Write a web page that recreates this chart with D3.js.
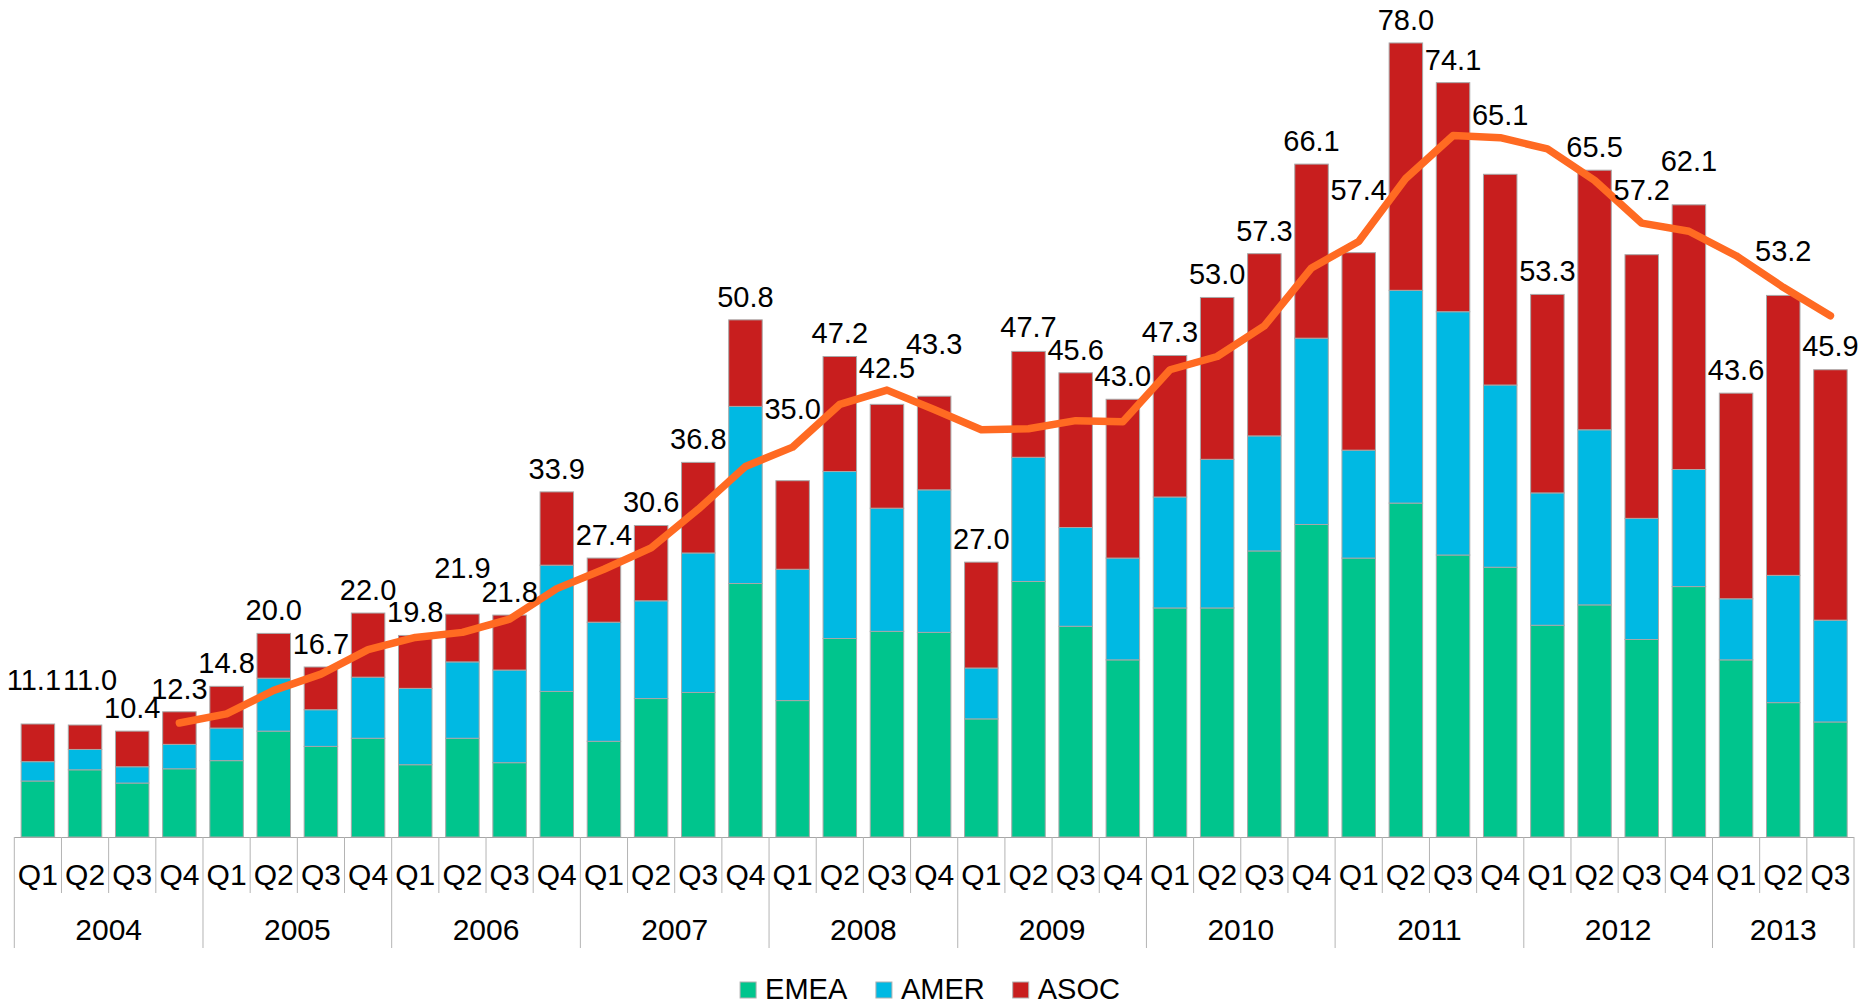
<!DOCTYPE html>
<html>
<head>
<meta charset="utf-8">
<script src="https://cdn.jsdelivr.net/npm/d3@7"></script>
<style>
  html, body { margin: 0; padding: 0; background: #ffffff; }
  svg { display: block; font-family: "Liberation Sans", Arial, sans-serif; }
</style>
</head>
<body>
<svg id="chart" width="1860" height="1005"></svg>
<script>
// ---------- data ----------
const years = ["2004","2005","2006","2007","2008","2009","2010","2011","2012","2013"];
const quarters = ["Q1","Q2","Q3","Q4","Q1","Q2","Q3","Q4","Q1","Q2","Q3","Q4","Q1","Q2","Q3","Q4",
  "Q1","Q2","Q3","Q4","Q1","Q2","Q3","Q4","Q1","Q2","Q3","Q4","Q1","Q2","Q3","Q4",
  "Q1","Q2","Q3","Q4","Q1","Q2","Q3"];
const seriesNames = ["EMEA","AMER","ASOC"];
const emea = [5.5,6.6,5.3,6.7, 7.5,10.4,8.9,9.7, 7.1,9.7,7.3,14.3, 9.4,13.6,14.2,24.9,
  13.4,19.5,20.2,20.1, 11.6,25.1,20.7,17.4, 22.5,22.5,28.1,30.7, 27.4,32.8,27.7,26.5,
  20.8,22.8,19.4,24.6, 17.4,13.2,11.3];
const amer = [1.9,2.0,1.6,2.4, 3.2,5.2,3.6,6.0, 7.5,7.5,9.1,12.4, 11.7,9.6,13.7,17.4,
  12.9,16.4,12.1,14.0, 5.0,12.2,9.7,10.0, 10.9,14.6,11.3,18.3, 10.6,20.9,23.9,17.9,
  13.0,17.2,11.9,11.5, 6.0,12.5,10.0];
const asoc = [3.7,2.4,3.5,3.2, 4.1,4.4,4.2,6.3, 5.2,4.7,5.4,7.2, 6.3,7.4,8.9,8.5,
  8.7,11.3,10.2,9.2, 10.4,10.4,15.2,15.6, 13.9,15.9,17.9,17.1, 19.4,24.3,22.5,20.7,
  19.5,25.5,25.9,26.0, 20.2,27.5,24.6];
const totals = [11.1,11.0,10.4,12.3, 14.8,20.0,16.7,22.0, 19.8,21.9,21.8,33.9, 27.4,30.6,36.8,50.8,
  35.0,47.2,42.5,43.3, 27.0,47.7,45.6,43.0, 47.3,53.0,57.3,66.1, 57.4,78.0,74.1,65.1,
  53.3,65.5,57.2,62.1, 43.6,53.2,45.9];
// 4-quarter trend line
const trend = [null,null,null,11.2, 12.1,14.4,16.0,18.4, 19.6,20.1,21.4,24.4, 26.3,28.4,32.2,36.4,
  38.3,42.5,43.9,42.0, 40.0,40.1,40.9,40.8, 45.9,47.2,50.2,55.9, 58.5,64.7,68.9,68.7,
  67.6,64.5,60.3,59.5, 57.1,54.0,51.2];

// ---------- layout / style ----------
const colors = ["#00C58D", "#00B9E3", "#C81E1E"];
const lineColor = "#FF6A22";
const labelLift = [34,35,13,13, 13,13,13,13, 13,36,13,13, 13,13,13,13,
  62,14,26,42, 13,14,13,13, 13,13,13,13, 53,13,13,49, 13,13,55,34, 13,34,14];
const labelNudgeX = { 0: -4, 1: 5 };

const svg = d3.select("#chart");
const left = 14.3, right = 1854, base = 837, pxPerUnit = 10.18;
const idx = d3.range(totals.length);

const x = d3.scaleBand().domain(idx).range([left, right]).paddingInner(0.29).paddingOuter(0.145);
const y = d3.scaleLinear().domain([0, 80]).range([base, base - 80 * pxPerUnit]);

// stacked bars
const rows = idx.map(i => ({ i, EMEA: emea[i], AMER: amer[i], ASOC: asoc[i] }));
const stacked = d3.stack().keys(seriesNames)(rows);

svg.append("g").selectAll("g").data(stacked).join("g")
  .attr("fill", (d, k) => colors[k])
  .selectAll("rect").data(d => d).join("rect")
  .attr("x", d => x(d.data.i))
  .attr("width", x.bandwidth())
  .attr("y", d => y(d[1]))
  .attr("height", d => y(d[0]) - y(d[1]))
  .attr("stroke", "#A8A8A8")
  .attr("stroke-width", 1);

// axis baseline and separators
const step = x.step();
const axisG = svg.append("g");
axisG.append("line")
  .attr("x1", left).attr("x2", right).attr("y1", base + 0.5).attr("y2", base + 0.5)
  .attr("stroke", "#A6A6A6").attr("stroke-width", 1.2);
d3.range(totals.length + 1).forEach(b => {
  const xx = left + b * step;
  const isYear = (b % 4 === 0) || b === totals.length;
  axisG.append("line")
    .attr("x1", xx).attr("x2", xx).attr("y1", base).attr("y2", isYear ? 948 : 893)
    .attr("stroke", "#B4B4B4").attr("stroke-width", 1);
});

// quarter labels through d3 axis
const qAxis = d3.axisBottom(x).tickSize(0).tickFormat(i => quarters[i]);
const qG = svg.append("g").attr("transform", `translate(0,${base})`).call(qAxis);
qG.select(".domain").remove();
qG.selectAll("text")
  .attr("y", 48).attr("dy", 0)
  .attr("fill", "#000").style("font-size", "30px")
  .style("font-family", "'Liberation Sans', Arial, sans-serif");

// year labels
svg.append("g").selectAll("text").data(years).join("text")
  .attr("x", (d, k) => {
    const first = k * 4, last = Math.min(k * 4 + 3, totals.length - 1);
    return (left + first * step + left + (last + 1) * step) / 2;
  })
  .attr("y", 940)
  .attr("text-anchor", "middle")
  .style("font-size", "30px")
  .text(d => d);

// trend line
const line = d3.line()
  .defined(d => d != null)
  .x((d, i) => x(i) + x.bandwidth() / 2)
  .y(d => y(d));
svg.append("path")
  .datum(trend)
  .attr("d", line)
  .attr("fill", "none")
  .attr("stroke", lineColor)
  .attr("stroke-width", 7.5)
  .attr("stroke-linejoin", "round")
  .attr("stroke-linecap", "round");

// total labels
svg.append("g").selectAll("text").data(totals).join("text")
  .attr("x", (d, i) => x(i) + x.bandwidth() / 2 + (labelNudgeX[i] || 0))
  .attr("y", (d, i) => y(d) - labelLift[i])
  .attr("text-anchor", "middle")
  .style("font-size", "29px")
  .attr("fill", "#000")
  .text(d => d.toFixed(1));

// legend
const legendItems = seriesNames.map((n, k) => ({ n, c: colors[k] }));
const lg = svg.append("g");
let cursor = 0;
const items = lg.selectAll("g").data(legendItems).join("g");
items.append("rect").attr("width", 16).attr("height", 16).attr("y", -17)
  .attr("fill", d => d.c).attr("stroke", "#B0B0B0").attr("stroke-width", 1);
items.append("text").attr("x", 25).attr("y", 0).style("font-size", "29px").text(d => d.n);
items.each(function() {
  const w = this.getBBox().width;
  d3.select(this).attr("transform", `translate(${cursor},999)`);
  cursor += w + 28;
});
const totalW = cursor - 28;
lg.attr("transform", `translate(${930 - totalW / 2},0)`);
</script>
</body>
</html>
